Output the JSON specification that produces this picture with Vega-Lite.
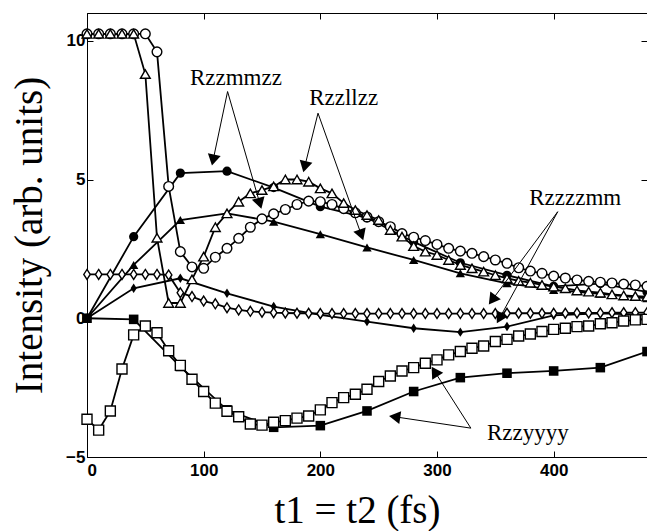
{
  "$schema": "https://vega.github.io/schema/vega-lite/v6.json",
  "width": 560,
  "height": 444,
  "autosize": {"type": "none"},
  "padding": {"left": 87, "top": 13, "right": 0, "bottom": 74},
  "background": "white",
  "config": {
    "view": {"stroke": "black", "strokeWidth": 1},
    "axis": {
      "grid": false,
      "domainColor": "black",
      "tickColor": "black",
      "labelColor": "black",
      "labelFont": "Liberation Sans",
      "labelFontWeight": "bold",
      "labelFontSize": 17,
      "titleFont": "Liberation Serif",
      "titleFontWeight": "normal",
      "titleColor": "black",
      "tickSize": -6
    }
  },
  "datasets": {
    "curves": [
      {"s":"A","t":0,"v":0},{"s":"A","t":40,"v":2.94},{"s":"A","t":80,"v":5.23},{"s":"A","t":120,"v":5.3},{"s":"A","t":160,"v":4.71},{"s":"A","t":200,"v":4.02},{"s":"A","t":240,"v":3.62},{"s":"A","t":280,"v":2.75},{"s":"A","t":320,"v":2.0},{"s":"A","t":360,"v":1.55},{"s":"A","t":400,"v":1.15},{"s":"A","t":440,"v":1.25},{"s":"A","t":480,"v":0.95},
      {"s":"B","t":0,"v":10.25},{"s":"B","t":10,"v":10.25},{"s":"B","t":20,"v":10.25},{"s":"B","t":30,"v":10.25},{"s":"B","t":40,"v":10.25},{"s":"B","t":50,"v":10.25},{"s":"B","t":60,"v":9.6},{"s":"B","t":70,"v":4.75},{"s":"B","t":80,"v":2.4},{"s":"B","t":90,"v":1.85},{"s":"B","t":100,"v":1.8},{"s":"B","t":110,"v":2.2},{"s":"B","t":120,"v":2.52},{"s":"B","t":130,"v":2.88},{"s":"B","t":140,"v":3.28},{"s":"B","t":150,"v":3.58},{"s":"B","t":160,"v":3.76},{"s":"B","t":170,"v":3.92},{"s":"B","t":180,"v":4.1},{"s":"B","t":190,"v":4.22},{"s":"B","t":200,"v":4.2},{"s":"B","t":210,"v":4.1},{"s":"B","t":220,"v":3.95},{"s":"B","t":230,"v":3.8},{"s":"B","t":240,"v":3.65},{"s":"B","t":250,"v":3.48},{"s":"B","t":260,"v":3.3},{"s":"B","t":270,"v":3.05},{"s":"B","t":280,"v":2.92},{"s":"B","t":290,"v":2.8},{"s":"B","t":300,"v":2.66},{"s":"B","t":310,"v":2.52},{"s":"B","t":320,"v":2.42},{"s":"B","t":330,"v":2.34},{"s":"B","t":340,"v":2.22},{"s":"B","t":350,"v":2.1},{"s":"B","t":360,"v":1.98},{"s":"B","t":370,"v":1.82},{"s":"B","t":380,"v":1.7},{"s":"B","t":390,"v":1.62},{"s":"B","t":400,"v":1.52},{"s":"B","t":410,"v":1.45},{"s":"B","t":420,"v":1.38},{"s":"B","t":430,"v":1.33},{"s":"B","t":440,"v":1.3},{"s":"B","t":450,"v":1.27},{"s":"B","t":460,"v":1.23},{"s":"B","t":470,"v":1.2},{"s":"B","t":480,"v":1.15},
      {"s":"C","t":0,"v":0},{"s":"C","t":40,"v":1.92},{"s":"C","t":80,"v":3.54},{"s":"C","t":120,"v":3.78},{"s":"C","t":160,"v":3.48},{"s":"C","t":200,"v":3.03},{"s":"C","t":240,"v":2.55},{"s":"C","t":280,"v":2.1},{"s":"C","t":320,"v":1.62},{"s":"C","t":360,"v":1.26},{"s":"C","t":400,"v":1.02},{"s":"C","t":440,"v":0.88},{"s":"C","t":480,"v":0.72},
      {"s":"D","t":0,"v":10.25},{"s":"D","t":10,"v":10.25},{"s":"D","t":20,"v":10.25},{"s":"D","t":30,"v":10.25},{"s":"D","t":40,"v":10.25},{"s":"D","t":50,"v":8.8},{"s":"D","t":60,"v":2.9},{"s":"D","t":70,"v":0.55},{"s":"D","t":80,"v":0.55},{"s":"D","t":90,"v":1.4},{"s":"D","t":100,"v":2.22},{"s":"D","t":110,"v":3.28},{"s":"D","t":120,"v":3.78},{"s":"D","t":130,"v":4.2},{"s":"D","t":140,"v":4.5},{"s":"D","t":150,"v":4.62},{"s":"D","t":160,"v":4.75},{"s":"D","t":170,"v":5.0},{"s":"D","t":180,"v":5.0},{"s":"D","t":190,"v":4.92},{"s":"D","t":200,"v":4.68},{"s":"D","t":210,"v":4.5},{"s":"D","t":220,"v":4.15},{"s":"D","t":230,"v":3.9},{"s":"D","t":240,"v":3.72},{"s":"D","t":250,"v":3.54},{"s":"D","t":260,"v":3.18},{"s":"D","t":270,"v":2.94},{"s":"D","t":280,"v":2.6},{"s":"D","t":290,"v":2.4},{"s":"D","t":300,"v":2.28},{"s":"D","t":310,"v":2.1},{"s":"D","t":320,"v":1.92},{"s":"D","t":330,"v":1.8},{"s":"D","t":340,"v":1.68},{"s":"D","t":350,"v":1.55},{"s":"D","t":360,"v":1.44},{"s":"D","t":370,"v":1.35},{"s":"D","t":380,"v":1.28},{"s":"D","t":390,"v":1.2},{"s":"D","t":400,"v":1.14},{"s":"D","t":410,"v":1.08},{"s":"D","t":420,"v":1.0},{"s":"D","t":430,"v":0.96},{"s":"D","t":440,"v":0.92},{"s":"D","t":450,"v":0.86},{"s":"D","t":460,"v":0.82},{"s":"D","t":470,"v":0.8},{"s":"D","t":480,"v":0.78},
      {"s":"E","t":0,"v":0},{"s":"E","t":40,"v":1.08},{"s":"E","t":80,"v":1.44},{"s":"E","t":120,"v":0.9},{"s":"E","t":160,"v":0.42},{"s":"E","t":200,"v":0.12},{"s":"E","t":240,"v":-0.12},{"s":"E","t":280,"v":-0.36},{"s":"E","t":320,"v":-0.5},{"s":"E","t":360,"v":-0.3},{"s":"E","t":400,"v":0.1},{"s":"E","t":440,"v":0.18},{"s":"E","t":480,"v":0.12},
      {"s":"F","t":0,"v":1.58},{"s":"F","t":10,"v":1.58},{"s":"F","t":20,"v":1.58},{"s":"F","t":30,"v":1.58},{"s":"F","t":40,"v":1.58},{"s":"F","t":50,"v":1.58},{"s":"F","t":60,"v":1.58},{"s":"F","t":70,"v":1.56},{"s":"F","t":80,"v":0.92},{"s":"F","t":90,"v":0.78},{"s":"F","t":100,"v":0.62},{"s":"F","t":110,"v":0.52},{"s":"F","t":120,"v":0.38},{"s":"F","t":130,"v":0.3},{"s":"F","t":140,"v":0.25},{"s":"F","t":150,"v":0.22},{"s":"F","t":160,"v":0.2},{"s":"F","t":170,"v":0.19},{"s":"F","t":180,"v":0.18},{"s":"F","t":190,"v":0.18},{"s":"F","t":200,"v":0.17},{"s":"F","t":210,"v":0.17},{"s":"F","t":220,"v":0.17},{"s":"F","t":230,"v":0.17},{"s":"F","t":240,"v":0.17},{"s":"F","t":250,"v":0.17},{"s":"F","t":260,"v":0.17},{"s":"F","t":270,"v":0.17},{"s":"F","t":280,"v":0.17},{"s":"F","t":290,"v":0.17},{"s":"F","t":300,"v":0.17},{"s":"F","t":310,"v":0.17},{"s":"F","t":320,"v":0.17},{"s":"F","t":330,"v":0.17},{"s":"F","t":340,"v":0.17},{"s":"F","t":350,"v":0.17},{"s":"F","t":360,"v":0.18},{"s":"F","t":370,"v":0.18},{"s":"F","t":380,"v":0.18},{"s":"F","t":390,"v":0.18},{"s":"F","t":400,"v":0.18},{"s":"F","t":410,"v":0.18},{"s":"F","t":420,"v":0.19},{"s":"F","t":430,"v":0.19},{"s":"F","t":440,"v":0.19},{"s":"F","t":450,"v":0.2},{"s":"F","t":460,"v":0.2},{"s":"F","t":470,"v":0.2},{"s":"F","t":480,"v":0.2},
      {"s":"G","t":0,"v":0},{"s":"G","t":40,"v":-0.04},{"s":"G","t":80,"v":-1.74},{"s":"G","t":120,"v":-3.3},{"s":"G","t":160,"v":-3.93},{"s":"G","t":200,"v":-3.87},{"s":"G","t":240,"v":-3.34},{"s":"G","t":280,"v":-2.64},{"s":"G","t":320,"v":-2.14},{"s":"G","t":360,"v":-1.98},{"s":"G","t":400,"v":-1.9},{"s":"G","t":440,"v":-1.78},{"s":"G","t":480,"v":-1.2},
      {"s":"H","t":0,"v":-3.64},{"s":"H","t":10,"v":-4.03},{"s":"H","t":20,"v":-3.34},{"s":"H","t":30,"v":-1.83},{"s":"H","t":40,"v":-0.6},{"s":"H","t":50,"v":-0.28},{"s":"H","t":60,"v":-0.52},{"s":"H","t":70,"v":-1.17},{"s":"H","t":80,"v":-1.7},{"s":"H","t":90,"v":-2.2},{"s":"H","t":100,"v":-2.64},{"s":"H","t":110,"v":-3.06},{"s":"H","t":120,"v":-3.35},{"s":"H","t":130,"v":-3.55},{"s":"H","t":140,"v":-3.81},{"s":"H","t":150,"v":-3.85},{"s":"H","t":160,"v":-3.75},{"s":"H","t":170,"v":-3.69},{"s":"H","t":180,"v":-3.6},{"s":"H","t":190,"v":-3.52},{"s":"H","t":200,"v":-3.3},{"s":"H","t":210,"v":-3.04},{"s":"H","t":220,"v":-2.86},{"s":"H","t":230,"v":-2.74},{"s":"H","t":240,"v":-2.56},{"s":"H","t":250,"v":-2.28},{"s":"H","t":260,"v":-2.08},{"s":"H","t":270,"v":-1.9},{"s":"H","t":280,"v":-1.78},{"s":"H","t":290,"v":-1.62},{"s":"H","t":300,"v":-1.5},{"s":"H","t":310,"v":-1.32},{"s":"H","t":320,"v":-1.2},{"s":"H","t":330,"v":-1.08},{"s":"H","t":340,"v":-1.0},{"s":"H","t":350,"v":-0.84},{"s":"H","t":360,"v":-0.76},{"s":"H","t":370,"v":-0.64},{"s":"H","t":380,"v":-0.57},{"s":"H","t":390,"v":-0.48},{"s":"H","t":400,"v":-0.4},{"s":"H","t":410,"v":-0.36},{"s":"H","t":420,"v":-0.3},{"s":"H","t":430,"v":-0.28},{"s":"H","t":440,"v":-0.2},{"s":"H","t":450,"v":-0.16},{"s":"H","t":460,"v":-0.1},{"s":"H","t":470,"v":-0.06},{"s":"H","t":480,"v":-0.04}
    ],
    "arrows": [
      {"lbl":"Rzzmmzz","x1":120.5,"y1":8.17,"x2":108.1,"y2":5.7},
      {"lbl":"Rzzmmzz","x1":120.5,"y1":8.17,"x2":148.1,"y2":4.14},
      {"lbl":"Rzzllzz","x1":198,"y1":7.39,"x2":186.6,"y2":5.46},
      {"lbl":"Rzzllzz","x1":198,"y1":7.39,"x2":235.2,"y2":3.0},
      {"lbl":"Rzzzzmm","x1":403.5,"y1":3.84,"x2":347.3,"y2":0.66},
      {"lbl":"Rzzzzmm","x1":403.5,"y1":3.84,"x2":353.6,"y2":0.0},
      {"lbl":"Rzzyyyy","x1":329,"y1":-3.96,"x2":298,"y2":-1.92},
      {"lbl":"Rzzyyyy","x1":329,"y1":-3.96,"x2":263.7,"y2":-3.55}
    ],
    "labels": [
      {"lbl":"Rzzmmzz","x":127.6,"y":8.65},
      {"lbl":"Rzzllzz","x":220,"y":7.93},
      {"lbl":"Rzzzzmm","x":418.5,"y":4.32},
      {"lbl":"Rzzyyyy","x":377.8,"y":-4.14}
    ]
  },
  "resolve": {"axis": {"x": "independent", "y": "independent"}},
  "layer": [
    {
      "data": {"name": "curves"},
      "mark": {"type": "line", "color": "black", "strokeWidth": 1.8},
      "encoding": {
        "x": {"field": "t", "type": "quantitative", "scale": {"domain": [0, 480], "nice": false, "zero": false},
              "axis": {"orient": "bottom", "values": [0, 100, 200, 300, 400], "labelPadding": 11, "title": "t1 = t2 (fs)", "titleFontSize": 39, "titleX": 270, "titleY": 65, "titleBaseline": "alphabetic", "titleAlign": "center"}},
        "y": {"field": "v", "type": "quantitative", "scale": {"domain": [-5, 11], "nice": false, "zero": false},
              "axis": {"orient": "left", "values": [-5, 0, 5, 10], "labelPadding": 8, "title": "Intensity (arb. units)", "titleFontSize": 39, "titleX": -58, "titleY": 222, "titleAngle": -90, "titleBaseline": "middle", "titleAlign": "center"}},
        "detail": {"field": "s", "type": "nominal"}
      }
    },
    {
      "data": {"name": "curves"},
      "transform": [{"filter": {"field": "s", "oneOf": ["A", "C", "E", "G"]}}],
      "mark": {"type": "point", "filled": true, "color": "black", "opacity": 1},
      "encoding": {
        "x": {"field": "t", "type": "quantitative", "axis": {"orient": "top", "values": [0, 100, 200, 300, 400], "labels": false, "domain": false, "title": null}},
        "y": {"field": "v", "type": "quantitative", "axis": {"orient": "right", "values": [-5, 0, 5, 10], "labels": false, "domain": false, "title": null}},
        "shape": {"field": "s", "type": "nominal", "legend": null, "scale": {"domain": ["A", "C", "E", "G", "B", "D", "F", "H"], "range": ["circle", "triangle-up", "M0,-1L0.65,0L0,1L-0.65,0Z", "square", "circle", "triangle-up", "M0,-1L0.65,0L0,1L-0.65,0Z", "square"]}},
        "size": {"field": "s", "type": "nominal", "legend": null, "scale": {"domain": ["A", "C", "E", "G", "B", "D", "F", "H"], "range": [85, 100, 115, 55, 28, 40, 45, 24]}}
      }
    },
    {
      "data": {"name": "curves"},
      "transform": [{"filter": {"field": "s", "oneOf": ["B", "D", "F", "H"]}}],
      "mark": {"type": "point", "filled": true, "fill": "white", "stroke": "black", "strokeWidth": 1.4, "opacity": 1},
      "encoding": {
        "x": {"field": "t", "type": "quantitative", "axis": null},
        "y": {"field": "v", "type": "quantitative", "axis": null},
        "shape": {"field": "s", "type": "nominal", "legend": null},
        "size": {"field": "s", "type": "nominal", "legend": null}
      }
    },
    {
      "data": {"name": "arrows"},
      "mark": {"type": "rule", "color": "black", "strokeWidth": 1},
      "encoding": {
        "x": {"field": "x1", "type": "quantitative", "axis": null},
        "y": {"field": "y1", "type": "quantitative", "axis": null},
        "x2": {"field": "x2"},
        "y2": {"field": "y2"}
      }
    },
    {
      "data": {"name": "arrows"},
      "transform": [{"calculate": "atan2((datum.x2 - datum.x1) * 560 / 480, (datum.y2 - datum.y1) * 444 / 16) * 180 / PI", "as": "ang"}],
      "mark": {"type": "point", "shape": "triangle-up", "filled": true, "color": "black", "size": 170, "opacity": 1},
      "encoding": {
        "x": {"field": "x2", "type": "quantitative", "axis": null},
        "y": {"field": "y2", "type": "quantitative", "axis": null},
        "angle": {"field": "ang", "type": "quantitative", "scale": null}
      }
    },
    {
      "data": {"name": "labels"},
      "mark": {"type": "text", "font": "Liberation Serif", "fontSize": 23, "color": "black", "align": "center", "baseline": "middle"},
      "encoding": {
        "x": {"field": "x", "type": "quantitative", "axis": null},
        "y": {"field": "y", "type": "quantitative", "axis": null},
        "text": {"field": "lbl", "type": "nominal"}
      }
    }
  ]
}
